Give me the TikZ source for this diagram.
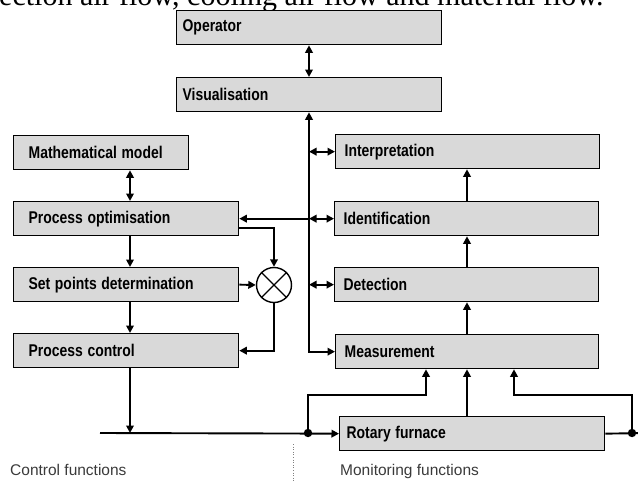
\documentclass[tikz,border=0pt]{standalone}
\usepackage{graphicx}
\usepackage{fontspec}
\setmainfont{Liberation Sans}
\newfontfamily\capserif{Liberation Serif}
\usetikzlibrary{arrows.meta}
\definecolor{boxgray}{HTML}{D9D9D9}
\definecolor{footgray}{HTML}{3A3A3A}
\newcommand{\bxt}[1]{\scalebox{0.82}[1]{#1}}
\begin{document}
\begin{tikzpicture}[x=1pt,y=-1pt,
  >={Triangle[length=7.5pt,width=7.5pt]},
  box/.style={draw=black, fill=boxgray, line width=1.3pt, anchor=north west,
    minimum height=34pt, align=left, inner ysep=0pt,
    font=\bfseries\fontsize{17}{19}\selectfont},
  conn/.style={line width=1.9pt, draw=black},
  junction/.style={fill=black},
  foot/.style={anchor=base west, text=footgray, inner sep=0pt,
    font=\fontsize{15.5}{18}\selectfont},
  captext/.style={anchor=base west, inner sep=0pt,
    font=\capserif\fontsize{30}{34}\selectfont}]
\useasboundingbox (0,0) rectangle (638,480);
\clip (0,0) rectangle (638,480);

% clipped caption line above the diagram
\node[captext] (cap) at (-1,5) {ection air flow, cooling air flow and material flow.};

% helper coordinates
\coordinate (xv) at (309,0);
\coordinate (xl) at (130,0);
\coordinate (xm) at (467,0);
\coordinate (ml) at (100,433);
\coordinate (dotL) at (308,433);
\coordinate (dotR) at (632,433);
\coordinate (aL) at (426,395);
\coordinate (aR) at (514,395);
\coordinate (edge) at (648,433);

% boxes
\node[box, text width=253pt, inner xsep=6pt] (op) at (176,10) {\bxt{Operator}};
\node[box, text width=253pt, inner xsep=6pt] (vis) at (176,77) {\bxt{Visualisation}};
\node[box, text width=145pt, inner xsep=15pt] (math) at (13,135) {\bxt{Mathematical model}};
\node[box, text width=195pt, inner xsep=15pt] (popt) at (13,201) {\bxt{Process optimisation}};
\node[box, text width=195pt, inner xsep=15pt] (setp) at (13,267) {\bxt{Set points determination}};
\node[box, text width=195pt, inner xsep=15pt] (pctl) at (13,333) {\bxt{Process control}};
\node[box, text width=246pt, inner xsep=9pt] (interp) at (335,134) {\bxt{Interpretation}};
\node[box, text width=246pt, inner xsep=9pt] (ident) at (334,201) {\bxt{Identification}};
\node[box, text width=246pt, inner xsep=9pt] (detect) at (334,267) {\bxt{Detection}};
\node[box, text width=245pt, inner xsep=9pt] (meas) at (335,334) {\bxt{Measurement}};
\node[box, text width=251pt, inner xsep=7pt] (rot) at (339,416) {\bxt{Rotary furnace}};

% multiplier circle
\node[draw=black, line width=1.4pt, circle, minimum size=35pt, inner sep=0pt] (circ) at (274,285) {};
\draw[line width=1.4pt] (circ.north west) -- (circ.south east)
                        (circ.north east) -- (circ.south west);

% monitoring side
\draw[conn,<->] (op.south -| xv) -- (vis.north -| xv);
\draw[conn,<->] (meas.west) -| (vis.south -| xv);
\draw[conn,<->] (xv |- interp.west) -- (interp.west);
\draw[conn,<->] (xv |- ident.west) -- (ident.west);
\draw[conn,<->] (xv |- detect.west) -- (detect.west);
\draw[conn,->] (meas.north -| xm) -- (detect.south -| xm);
\draw[conn,->] (detect.north -| xm) -- (ident.south -| xm);
\draw[conn,->] (ident.north -| xm) -- (interp.south -| xm);

% control side
\draw[conn,->] (xv |- ident.west) -- (popt.east);
\draw[conn,<->] (math.south -| xl) -- (popt.north -| xl);
\draw[conn,->] (popt.south -| xl) -- (setp.north -| xl);
\draw[conn,->] (setp.south -| xl) -- (pctl.north -| xl);
\draw[conn,->] ([yshift=-9pt]popt.east) -| (circ.north);
\draw[conn,->] (setp.east) -- (circ.west);
\draw[conn,->] (circ.south) |- (pctl.east);
\draw[conn,->] (pctl.south -| xl) -- (xl |- ml);

% material flow line
\draw[conn,->] (ml) -- (rot.west);
\draw[conn,->] (dotL) -- (dotL |- aL) -- (aL) -- (aL |- meas.south);
\draw[conn,->] (rot.north -| xm) -- (meas.south -| xm);
\draw[conn,->] (rot.east) -- (edge);
\draw[conn,->] (dotR) -- (dotR |- aR) -- (aR) -- (aR |- meas.south);
\fill[junction] (dotL) circle (4.2pt);
\fill[junction] (dotR) circle (4.2pt);

% separator and footers
\coordinate (sepT) at (293,444);
\coordinate (sepB) at (293,482);
\draw[gray, line width=0.6pt, dotted] (sepT) -- (sepB);
\node[foot] (cf) at (10,475) {Control functions};
\node[foot] (mf) at (340,475) {Monitoring functions};
\end{tikzpicture}
\end{document}
